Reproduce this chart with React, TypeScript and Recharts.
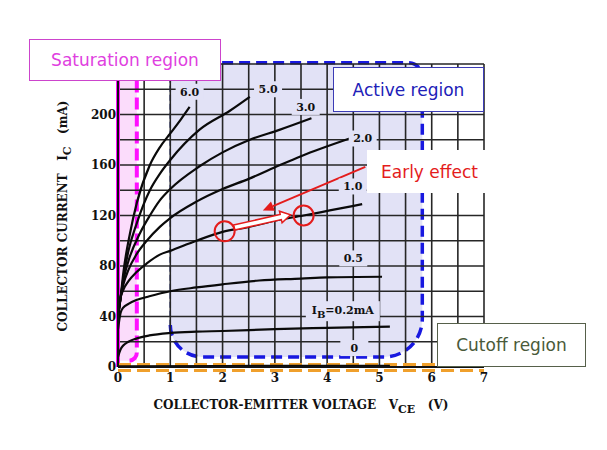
import React from 'react';
import {
  LineChart,
  Line,
  XAxis,
  YAxis,
  ReferenceArea,
  ReferenceLine,
  ReferenceDot,
} from 'recharts';

const W = 607;
const H = 450;

// axes
const VCE_TICKS = [0, 1, 2, 3, 4, 5, 6, 7];
const IC_TICKS = [0, 40, 80, 120, 160, 200];
const V_GRID = [0.5, 1, 1.5, 2, 2.5, 3, 3.5, 4, 4.5, 5, 5.5, 6, 6.5, 7];
const I_GRID = [20, 40, 60, 80, 100, 120, 140, 160, 180, 200, 220, 240];

// Ic (mA) vs Vce (V), one list per base current
const IB_0 = [[0, 0.5], [2, 0.8], [5.2, 1]];
const IB_02 = [[0, 8], [0.05, 14], [0.1, 17], [0.2, 20], [0.35, 22.5], [0.6, 25], [1, 27], [1.5, 28], [2, 28.5], [3, 30], [4, 31], [5.2, 32]];
const IB_05 = [[0, 30], [0.05, 43], [0.1, 47], [0.2, 50], [0.35, 53], [0.6, 56], [1, 60], [1.5, 63], [2, 65.5], [2.7, 68.5], [3.5, 70], [4, 71], [5.05, 71.5]];
const IB_1 = [[0, 40], [0.05, 55], [0.1, 61], [0.2, 68], [0.35, 75], [0.55, 82], [0.8, 89], [1, 92], [1.5, 100], [2, 107], [2.5, 111], [3, 116], [3.55, 120], [4.05, 124], [4.67, 129]];
const IB_2 = [[0, 40], [0.05, 55], [0.1, 65], [0.2, 77], [0.35, 89], [0.55, 100], [0.8, 111], [1, 118], [1.5, 131], [2, 141], [2.5, 149], [3.1, 160], [3.5, 167], [4.43, 181]];
const IB_3 = [[0, 40], [0.05, 55], [0.1, 68], [0.2, 84], [0.42, 106], [0.61, 120], [0.8, 132], [1, 141], [1.56, 159], [2, 170], [2.52, 180], [3.1, 188], [3.7, 197]];
const IB_5 = [[0, 40], [0.05, 55], [0.1, 70], [0.2, 92], [0.36, 114], [0.61, 140], [0.8, 153], [1, 164], [1.56, 188], [2.14, 203], [2.52, 214]];
const IB_6 = [[0, 40], [0.05, 55], [0.1, 74], [0.23, 106], [0.36, 130], [0.61, 160], [0.8, 174], [1, 185], [1.2, 196], [1.37, 206]];

const CURVES = [IB_0, IB_02, IB_05, IB_1, IB_2, IB_3, IB_5, IB_6];

// curve labels: [Vce, Ic, text]
const CURVE_LABELS: [number, number, string][] = [
  [1.37, 218, '6.0'],
  [2.87, 220, '5.0'],
  [3.59, 206, '3.0'],
  [4.68, 181, '2.0'],
  [4.49, 143, '1.0'],
  [4.5, 86, '0.5'],
  [4.3, 45, 'IB=0.2mA'],
  [4.52, 15, '0'],
];

// Early effect marks on the IB = 1.0 mA curve
const EARLY_POINTS = [[2.04, 107.5], [3.55, 120]];
const EARLY_ARROW = [[2.22, 110.5], [3.3, 120.5]];
const POINTER = [[4.73, 158.5], [2.77, 124]];

const SERIF = "'DejaVu Serif', serif";
const SANS = "'DejaVu Sans', sans-serif";
const LAVENDER = '#e2e2f6';
const BLUE = '#1818e0';
const RED = '#e41c1c';
const MAGENTA = '#ff10ff';

const toPts = (arr: number[][]) => arr.map(([v, i]) => ({ v, i }));

const tickStyle = { fontSize: 12, fontFamily: SERIF, fontWeight: 700, fill: '#111' };

function ActiveShape({ x, y, width, height }: any) {
  const r = x + width;
  const b = y + height;
  const tl = 14, tr = 14, bl = 32, br = 38;
  const outline = `M${x},${y + tl} A${tl},${tl} 0 0 1 ${x + tl},${y} L${r - tr},${y} A${tr},${tr} 0 0 1 ${r},${y + tr} L${r},${b - br} A${br},${br} 0 0 1 ${r - br},${b} L${x + bl},${b} A${bl},${bl} 0 0 1 ${x},${b - bl} Z`;
  const thick = `M${x},${b - bl} A${bl},${bl} 0 0 0 ${x + bl},${b} L${r - br},${b} A${br},${br} 0 0 0 ${r},${b - br} L${r},${y + tr} A${tr},${tr} 0 0 0 ${r - tr},${y} L${x + tl},${y} A${tl},${tl} 0 0 0 ${x},${y + tl}`;
  return (
    <g>
      <path d={outline} fill={LAVENDER} stroke="none" />
      <path d={`M${x},${y + tl} L${x},${b - bl}`} stroke="#1c2a8c" strokeWidth={1.5} strokeDasharray="6 3" fill="none" />
      <path d={thick} stroke={BLUE} strokeWidth={3.5} strokeDasharray="11 6" fill="none" />
    </g>
  );
}

function SaturationShape({ x, y, width, height }: any) {
  const r = x + width;
  const b = y + height;
  return (
    <g>
      <rect x={x} y={y} width={width} height={height} fill="#fbdcfb" />
      <path d={`M${r},${y} L${r},${b - 8} A8,8 0 0 1 ${r - 8},${b} L${x + 8},${b}`} stroke={MAGENTA} strokeWidth={4} strokeDasharray="12 5" fill="none" />
    </g>
  );
}

function CutoffShape({ x1, y1, x2 }: any) {
  return (
    <path
      d={`M${x1},${y1 - 2.5} L${x2},${y1 - 2.5} M${x1},${y1 + 3.5} L${x2},${y1 + 3.5}`}
      stroke="#f0a02c"
      strokeWidth={2.8}
      strokeDasharray="13 6"
      fill="none"
    />
  );
}

function PointerShape({ x1, y1, x2, y2 }: any) {
  const a = Math.atan2(y2 - y1, x2 - x1);
  const L = 11, Wd = 5;
  const bx = x2 - L * Math.cos(a), by = y2 - L * Math.sin(a);
  const nx = -Math.sin(a) * Wd, ny = Math.cos(a) * Wd;
  return (
    <g>
      <line x1={x1} y1={y1} x2={bx} y2={by} stroke={RED} strokeWidth={2} />
      <polygon points={`${x2},${y2} ${bx + nx},${by + ny} ${bx - nx},${by - ny}`} fill={RED} />
    </g>
  );
}

function HollowArrow({ x1, y1, x2, y2 }: any) {
  const a = Math.atan2(y2 - y1, x2 - x1);
  const c = Math.cos(a), s = Math.sin(a);
  const len = Math.hypot(x2 - x1, y2 - y1);
  const hl = 10, sw = 2.6, hw = 6;
  const p = (u: number, w: number) => `${x1 + u * c - w * s},${y1 + u * s + w * c}`;
  const pts = [p(0, -sw), p(len - hl, -sw), p(len - hl, -hw), p(len, 0), p(len - hl, hw), p(len - hl, sw), p(0, sw)];
  return <polygon points={pts.join(' ')} fill="#fff" stroke={RED} strokeWidth={1.5} />;
}

function CurveLabel({ cx, cy, text }: any) {
  if (text === 'IB=0.2mA') {
    return (
      <g>
        <rect x={cx - 37} y={cy - 9} width={74} height={20} fill={LAVENDER} />
        <text x={cx} y={cy + 4} textAnchor="middle" fontFamily={SERIF} fontWeight={700} fontSize={11} fill="#111">
          I<tspan fontSize={10} dy={4}>B</tspan>
          <tspan dy={-4}>=0.2mA</tspan>
        </text>
      </g>
    );
  }
  return (
    <g>
      <rect x={cx - 14} y={cy - 8} width={28} height={16} fill={LAVENDER} />
      <text x={cx} y={cy + 4} textAnchor="middle" fontFamily={SERIF} fontWeight={700} fontSize={11} fill="#111">
        {text}
      </text>
    </g>
  );
}

const boxBase: React.CSSProperties = {
  position: 'absolute',
  boxSizing: 'border-box',
  background: '#fff',
  fontFamily: SANS,
  fontSize: 17,
  display: 'flex',
  alignItems: 'center',
  justifyContent: 'center',
  whiteSpace: 'nowrap',
};

export default function App() {
  return (
    <div style={{ position: 'relative', width: W, height: H, background: '#fff' }}>
      <style>{'body{margin:0}'}</style>
      <LineChart width={W} height={H} margin={{ top: 64, right: 123, bottom: 53, left: 60 }}>
        <XAxis
          dataKey="v"
          type="number"
          domain={[0, 7]}
          ticks={VCE_TICKS}
          tick={tickStyle}
          tickLine={false}
          tickSize={0}
          tickMargin={6}
          axisLine={{ stroke: '#111', strokeWidth: 2 }}
          height={30}
          allowDataOverflow
        />
        <YAxis
          dataKey="i"
          type="number"
          domain={[0, 240]}
          ticks={IC_TICKS}
          tick={tickStyle}
          tickLine={false}
          tickSize={0}
          tickMargin={2}
          axisLine={{ stroke: '#111', strokeWidth: 2 }}
          width={58}
          allowDataOverflow
        />
        <ReferenceArea x1={1} x2={5.82} y1={8} y2={241} ifOverflow="visible" shape={<ActiveShape />} />
        <ReferenceArea x1={0} x2={0.36} y1={5} y2={227} ifOverflow="visible" shape={<SaturationShape />} />
        {V_GRID.map((v) => (
          <ReferenceLine key={'v' + v} x={v} stroke="#262626" strokeWidth={1.6} />
        ))}
        {I_GRID.map((i) => (
          <ReferenceLine key={'i' + i} y={i} stroke="#262626" strokeWidth={1.6} />
        ))}
        <ReferenceLine
          segment={[{ x: 0, y: 0 }, { x: 0, y: 227 }]}
          stroke={MAGENTA}
          strokeWidth={4}
        />
        <ReferenceLine segment={[{ x: 0, y: 0 }, { x: 7, y: 0 }]} shape={<CutoffShape />} ifOverflow="visible" />
        {CURVES.map((c, k) => (
          <Line
            key={k}
            data={toPts(c)}
            dataKey="i"
            type="monotone"
            stroke="#0a0a0a"
            strokeWidth={2.2}
            dot={false}
            isAnimationActive={false}
          />
        ))}
        {CURVE_LABELS.map(([v, i, t]) => (
          <ReferenceDot key={t} x={v} y={i} r={0} shape={(p: any) => <CurveLabel {...p} text={t} />} />
        ))}
        {EARLY_POINTS.map(([v, i]) => (
          <ReferenceDot key={v} x={v} y={i} r={10} fill="none" stroke={RED} strokeWidth={2} />
        ))}
        <ReferenceLine
          segment={[{ x: EARLY_ARROW[0][0], y: EARLY_ARROW[0][1] }, { x: EARLY_ARROW[1][0], y: EARLY_ARROW[1][1] }]}
          shape={<HollowArrow />}
        />
        <ReferenceLine
          segment={[{ x: POINTER[0][0], y: POINTER[0][1] }, { x: POINTER[1][0], y: POINTER[1][1] }]}
          shape={<PointerShape />}
        />
      </LineChart>

      {/* axis titles */}
      <div
        style={{
          position: 'absolute',
          left: 65,
          top: 216,
          transform: 'translate(-50%, -50%) rotate(-90deg)',
          fontFamily: SERIF,
          fontWeight: 700,
          fontSize: 12,
          whiteSpace: 'nowrap',
          color: '#111',
        }}
      >
        COLLECTOR CURRENT&nbsp;&nbsp;&nbsp;I<sub style={{ fontSize: 11 }}>C</sub>&nbsp;&nbsp;&nbsp;(mA)
      </div>
      <div
        style={{
          position: 'absolute',
          left: 301,
          top: 407,
          transform: 'translate(-50%, -50%)',
          fontFamily: SERIF,
          fontWeight: 700,
          fontSize: 12,
          whiteSpace: 'nowrap',
          color: '#111',
        }}
      >
        COLLECTOR-EMITTER VOLTAGE&nbsp;&nbsp;&nbsp;V<sub style={{ fontSize: 11 }}>CE</sub>&nbsp;&nbsp;&nbsp;(V)
      </div>

      {/* region annotations */}
      <div style={{ ...boxBase, left: 29, top: 39, width: 192, height: 42, border: '1.5px solid #cc44cc', color: '#e040e0' }}>
        Saturation region
      </div>
      <div style={{ ...boxBase, left: 333, top: 67, width: 151, height: 45, border: '1.5px solid #3b3bb5', color: '#2020b8' }}>
        Active region
      </div>
      <div style={{ ...boxBase, left: 437, top: 323, width: 149, height: 44, border: '1px solid #56604a', color: '#4a5a3a' }}>
        Cutoff region
      </div>
      <div style={{ ...boxBase, left: 367, top: 150, width: 130, height: 43, justifyContent: 'flex-start', paddingLeft: 14, color: RED }}>
        Early effect
      </div>
    </div>
  );
}
